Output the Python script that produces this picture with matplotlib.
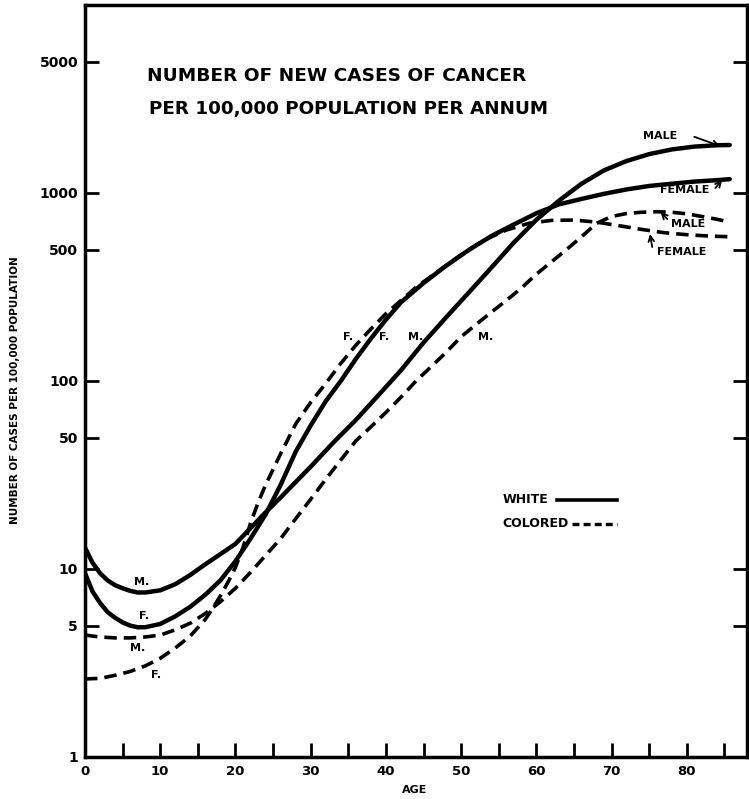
import numpy as np
import matplotlib
matplotlib.use("Agg")
import matplotlib.pyplot as plt

# ---- 数据----
age_wm = [0, 1, 2, 3, 4, 5, 6, 7, 8, 10, 12, 14, 16, 18, 20, 22, 24, 26, 28, 30,
          33, 36, 39, 42, 45, 48, 51, 54, 57, 60, 63, 66, 69, 72, 75, 78, 81, 84, 85.7]
white_male = [13, 10.8, 9.5, 8.7, 8.2, 7.9, 7.65, 7.5, 7.5, 7.7, 8.3, 9.3, 10.6, 12, 13.6,
              16.5, 20, 24, 29, 35, 47, 62, 84, 114, 160, 218, 295, 400, 545, 720, 910,
              1120, 1320, 1480, 1610, 1705, 1765, 1795, 1800]

age_wf = [0, 1, 2, 3, 4, 5, 6, 7, 8, 10, 12, 14, 16, 18, 20, 22, 24, 26, 28, 30, 32, 34,
          36, 38, 40, 42, 45, 48, 51, 54, 57, 60, 63, 66, 69, 72, 75, 78, 81, 84, 85.7]
white_female = [9.5, 7.6, 6.6, 5.9, 5.5, 5.2, 5.0, 4.9, 4.9, 5.1, 5.6, 6.3, 7.3, 8.7, 11,
                14.5, 19.5, 28, 42, 58, 78, 100, 131, 168, 212, 262, 332, 410, 497, 590,
                680, 780, 870, 930, 990, 1045, 1090, 1120, 1150, 1170, 1185]

age_cm = [0, 2, 4, 6, 8, 10, 12, 14, 16, 18, 20, 22, 24, 26, 28, 30, 32, 34, 36, 38, 40,
          42, 44, 46, 48, 50, 52, 54, 56, 58, 60, 62, 64, 66, 68, 70, 72, 74, 76, 78, 80,
          82, 84, 85.7]
colored_male = [4.45, 4.35, 4.3, 4.3, 4.35, 4.45, 4.75, 5.15, 5.8, 6.7, 7.9, 9.6, 11.8,
                14.5, 18.5, 23.5, 30, 38, 48, 57, 68, 82, 100, 119, 142, 172, 200, 232,
                268, 312, 370, 430, 500, 585, 690, 750, 778, 790, 795, 790, 775, 750, 725, 700]

age_cf = [0, 2, 4, 6, 8, 10, 12, 14, 16, 17, 18, 19, 20, 21, 22, 23, 24, 26, 28, 30, 32,
          34, 36, 38, 40, 42, 44, 47, 50, 53, 56, 59, 62, 65, 68, 71, 74, 77, 80, 83, 85.7]
colored_female = [2.6, 2.62, 2.72, 2.85, 3.05, 3.35, 3.8, 4.4, 5.4, 6.2, 7.2, 8.5, 10.2,
                  13, 17.5, 22.5, 28, 41, 59, 77, 97, 124, 155, 189, 228, 268, 315, 385,
                  470, 560, 635, 690, 715, 718, 700, 670, 640, 615, 600, 590, 585]

y_ticks = [1, 5, 10, 50, 100, 500, 1000, 5000]
y_tick_labels = ["1", "5", "10", "50", "100", "500", "1000", "5000"]
x_major = [0, 10, 20, 30, 40, 50, 60, 70, 80]
x_minor = [5, 15, 25, 35, 45, 55, 65, 75, 85]

plt.rcParams['font.family'] = ['DejaVu Sans']
plt.rcParams['font.weight'] = 'bold'
plt.rcParams['lines.scale_dashes'] = False

fig = plt.figure(figsize=(7.49, 7.99), dpi=100)
ax = fig.add_axes([85 / 749, 42 / 799, 662 / 749, 752 / 799])

solid_kw = dict(color='black', lw=3.2, solid_capstyle='round')
dash_kw = dict(color='black', lw=2.6, dashes=(9, 5), dash_capstyle='butt')

ax.plot(age_wm, white_male, **solid_kw)
ax.plot(age_wf, white_female, **solid_kw)
ax.plot(age_cm, colored_male, **dash_kw)
ax.plot(age_cf, colored_female, **dash_kw)

ax.set_yscale('log')
ax.set_xlim(0, 88)
ax.set_ylim(1, 10000)

ax.set_yticks(y_ticks)
ax.set_yticklabels(y_tick_labels)
ax.yaxis.set_minor_locator(matplotlib.ticker.NullLocator())
ax.set_xticks(x_major)
ax.set_xticks(x_minor, minor=True)
ax.tick_params(axis='y', which='major', direction='in', length=10, width=2,
               labelsize=10, right=True, pad=5)
ax.tick_params(axis='x', which='both', direction='in', length=10, width=2,
               labelsize=9.5, pad=6)
for lab in ax.get_xticklabels() + ax.get_yticklabels():
    lab.set_fontweight('bold')
for s in ax.spines.values():
    s.set_linewidth(2.5)

# 标题
ax.text(8.3, 4200, "NUMBER OF NEW CASES OF CANCER", fontsize=13.3, fontweight='bold',
        va='center', ha='left')
ax.text(8.5, 2800, "PER 100,000 POPULATION PER ANNUM", fontsize=13.2, fontweight='bold',
        va='center', ha='left')

# 曲线标注
lab_kw = dict(fontsize=8, fontweight='bold', ha='center', va='center')
ax.text(7.5, 8.5, "M.", **lab_kw)
ax.text(7.8, 5.6, "F.", **lab_kw)
ax.text(7.0, 3.8, "M.", **lab_kw)
ax.text(9.5, 2.72, "F.", **lab_kw)
ax.text(35.0, 171, "F.", **lab_kw)
ax.text(39.8, 171, "F.", **lab_kw)
ax.text(44.0, 171, "M.", **lab_kw)
ax.text(53.2, 171, "M.", **lab_kw)

ax.text(76.5, 2010, "MALE", **lab_kw)
ax.text(79.7, 1037, "FEMALE", **lab_kw)
ax.text(80.2, 684, "MALE", **lab_kw)
ax.text(79.3, 485, "FEMALE", **lab_kw)

arr = dict(arrowstyle='->', lw=1.3, color='black', shrinkA=0, shrinkB=0)
ax.annotate("", xy=(84.4, 1778), xytext=(81.0, 1990), arrowprops=arr)
ax.annotate("", xy=(84.7, 1172), xytext=(83.8, 1063), arrowprops=arr)
ax.annotate("", xy=(76.5, 792), xytext=(77.4, 727), arrowprops=arr)
ax.annotate("", xy=(75.1, 605), xytext=(75.4, 516), arrowprops=arr)

# 图例
ax.text(55.5, 23.3, "WHITE", fontsize=9, fontweight='bold', va='center', ha='left')
ax.text(55.5, 17.4, "COLORED", fontsize=9, fontweight='bold', va='center', ha='left')
ax.plot([62.8, 70.7], [23.3, 23.3], color='black', lw=2.6)
ax.plot([64.8, 70.7], [17.4, 17.4], color='black', lw=2.4, dashes=(5, 3))

fig.text(15 / 749, 1 - 390 / 799, "NUMBER OF CASES PER 100,000 POPULATION",
         rotation=90, fontsize=7.5, fontweight='bold', ha='center', va='center')
fig.text(415 / 749, 1 - 790 / 799, "AGE", fontsize=8, fontweight='bold',
         ha='center', va='center')

fig.savefig("out.png", dpi=100)
